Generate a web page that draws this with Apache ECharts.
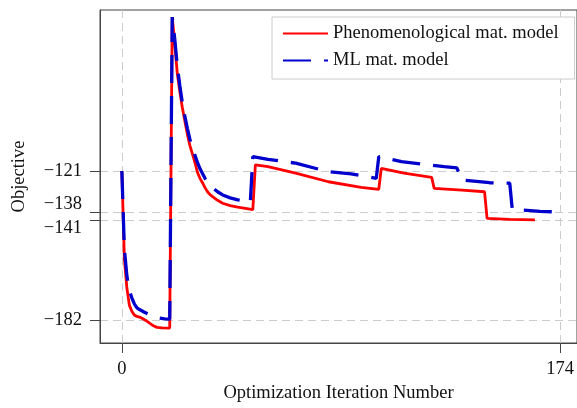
<!DOCTYPE html>
<html>
<head>
<meta charset="utf-8">
<script src="https://cdn.jsdelivr.net/npm/echarts@6/dist/echarts.min.js"></script>
<style>
  html, body { margin: 0; padding: 0; background: #fff; }
  #chart { width: 577px; height: 408px; }
</style>
</head>
<body>
<div id="chart"></div>
<script>
// values
const xTicks = [0, 174]
const yTicks = [-182, -141, -138, -121]

const phenoIter = [0, 1, 2, 3, 4, 5, 6, 7, 8, 9, 10, 11, 12, 13, 14, 16, 19,
  20, 21, 22, 23, 24, 25, 26, 27, 28, 29, 30, 31, 32, 33, 34, 35, 36, 38, 40, 43, 46, 49, 52,
  53, 58, 69, 82, 95, 102, 103, 112, 123, 124, 135, 144, 145, 154, 164]
const phenoObj = [-121, -157, -169, -176, -178.5, -180, -180.5, -180.8, -181.3, -181.9, -182.5, -183.3, -184, -184.6, -185, -185.2, -185.3,
  -58, -69, -81, -88.5, -95, -100.5, -106, -110.5, -114, -117.5, -121.5, -124, -125.8, -127.8, -129.5, -130.7, -131.5, -133, -134.2, -135.2, -135.8, -136.3, -136.8,
  -118.5, -119.2, -121.9, -125.4, -127.7, -128.5, -119.9, -121.9, -123.6, -128.1, -128.8, -129.5, -140.4, -140.8, -141]

const mlIter = [0, 1, 2, 3, 4, 5, 6, 7, 9, 11, 13, 15, 17, 19,
  20, 21, 22, 23, 24, 25, 26, 27, 28, 29, 30, 31, 32, 33, 34, 35, 36, 38, 40, 43, 46, 49, 51,
  52, 58, 69, 82, 91, 101, 102, 111, 128, 133, 135, 146, 154, 155, 166, 174]
const mlObj = [-121, -153, -164, -170, -173, -175.5, -177, -177.7, -178.8, -179.8, -180.6, -181.2, -181.5, -181.6,
  -58, -67, -78, -86, -93, -98.5, -103.5, -108, -111.5, -114.5, -117.5, -120, -122, -124, -125.5, -126.8, -127.8, -129.5, -130.8, -132, -132.8, -133.4, -133.8,
  -115.1, -116.2, -117.8, -121.3, -122.2, -124, -115.1, -117.2, -119.2, -119.7, -124.7, -125.8, -126, -136.7, -137.5, -137.8]

const FONT = '"Liberation Serif", "DejaVu Serif", serif'
const FS = 18.5
const AXIS_COLOR = '#444'
const minus = v => String(v).replace('-', '\u2212')

// -138 and -141 sit 3 units apart, so their labels get nudged up / down
const yLabel = v => {
  if (v === -138) return '{up|' + minus(v) + '}'
  if (v === -141) return '{dn|' + minus(v) + '}'
  return minus(v)
}

const textBase = { fontFamily: FONT, fontSize: FS, color: '#111' }

const chart = echarts.init(document.getElementById('chart'))

chart.setOption({
  animation: false,
  grid: {
    left: 100, right: -3, top: 10, bottom: 65,
    show: true, borderColor: AXIS_COLOR, borderWidth: 1
  },
  legend: {
    orient: 'vertical',
    left: 272,
    top: 17,
    padding: [7, 16, 9, 10],
    itemWidth: 45,
    itemHeight: 18,
    itemGap: 8,
    backgroundColor: '#fff',
    borderColor: '#ccc',
    borderWidth: 1,
    itemStyle: { opacity: 0 },
    textStyle: textBase,
    data: ['Phenomenological mat. model', 'ML mat. model']
  },
  xAxis: {
    type: 'value',
    min: -8.68,
    max: 180.7,
    name: 'Optimization Iteration Number',
    nameLocation: 'middle',
    nameGap: 41,
    nameTextStyle: textBase,
    axisLine: { show: true, onZero: false, lineStyle: { color: AXIS_COLOR } },
    axisTick: { show: true, length: 10, customValues: xTicks, lineStyle: { color: AXIS_COLOR } },
    axisLabel: Object.assign({ customValues: xTicks, margin: 17, formatter: minus }, textBase),
    splitLine: { show: true, lineStyle: { color: '#ccc', type: [8, 5] } }
  },
  yAxis: {
    type: 'value',
    min: -191.4,
    max: -55.1,
    name: 'Objective',
    nameLocation: 'middle',
    nameGap: 71,
    nameTextStyle: textBase,
    axisLine: { show: true, onZero: false, lineStyle: { color: AXIS_COLOR } },
    axisTick: { show: true, length: 10, customValues: yTicks, lineStyle: { color: AXIS_COLOR } },
    axisLabel: Object.assign({
      customValues: yTicks,
      margin: 18,
      formatter: yLabel,
      rich: {
        up: Object.assign({ padding: [0, 0, 17, 0] }, textBase),
        dn: Object.assign({ padding: [16, 0, 0, 0] }, textBase)
      }
    }, textBase),
    splitLine: { show: true, lineStyle: { color: '#ccc', type: [8, 5] } }
  },
  series: [
    {
      name: 'Phenomenological mat. model',
      type: 'line',
      symbol: 'none',
      data: phenoIter.map((it, i) => [it, phenoObj[i]]),
      lineStyle: { color: '#ff0000', width: 2.8 },
      itemStyle: { color: '#ff0000' }
    },
    {
      name: 'ML mat. model',
      type: 'line',
      symbol: 'none',
      data: mlIter.map((it, i) => [it, mlObj[i]]),
      lineStyle: { color: '#0000cc', width: 3.3, type: [28, 13] },
      itemStyle: { color: '#0000cc' }
    }
  ]
})
</script>
</body>
</html>
